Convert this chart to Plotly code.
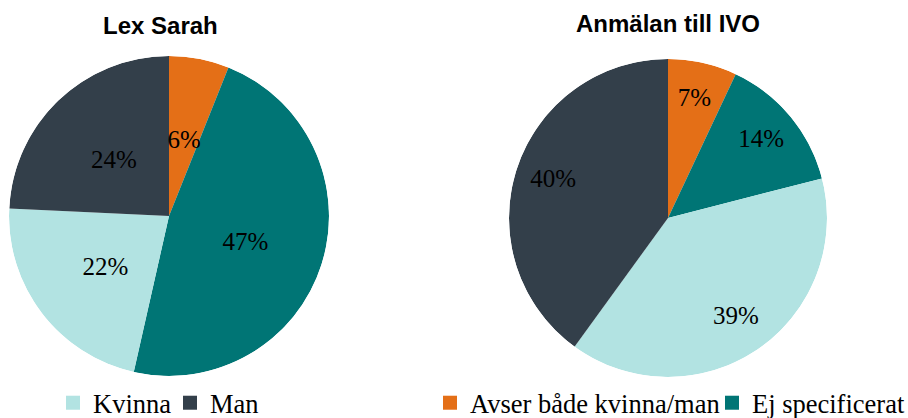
import plotly.graph_objects as go

# ---- data ----
categories = ["Avser både kvinna/man", "Ej specificerat", "Kvinna", "Man"]
lex_sarah = [6, 47, 22, 24]
ivo = [7, 14, 39, 40]
titles = ["Lex Sarah", "Anmälan till IVO"]
legend_items = ["Kvinna", "Man", "Avser både kvinna/man", "Ej specificerat"]

colors = {
    "Avser både kvinna/man": "#E46F17",
    "Ej specificerat": "#007575",
    "Kvinna": "#B2E3E2",
    "Man": "#333F4A",
}
slice_colors = [colors[c] for c in categories]

W, H = 908, 418
serif = "Liberation Serif"
sans = "Liberation Sans"
LABEL_SIZE = 25


def dom(cx, cy, r):
    return dict(x=[(cx - r) / W, (cx + r) / W], y=[1 - (cy + r) / H, 1 - (cy - r) / H])


def shares(values):
    total = float(sum(values))
    spans = [v / total * 360.0 for v in values]
    mids, acc = [], 0.0
    for s in spans:
        mids.append(acc + s / 2.0)
        acc += s
    return mids, spans


def polar_frame(d):
    return dict(
        domain=d, bgcolor="rgba(0,0,0,0)", bargap=0, hole=0,
        radialaxis=dict(range=[0, 1], visible=False, showgrid=False, showline=False),
        angularaxis=dict(rotation=90, direction="clockwise", visible=False,
                         showgrid=False, showline=False, ticks=""),
    )


fig = go.Figure()
polar_layout = {}


def add_pie(values, cx, cy, r, label_frac, text_dy, pie_id, text_id):
    mids, spans = shares(values)
    # pie slices as full-radius polar wedges
    fig.add_trace(go.Barpolar(
        r=[1] * len(values), theta=mids, width=spans,
        marker=dict(color=slice_colors, line=dict(width=0)),
        customdata=categories, hovertemplate="%{customdata}<extra></extra>",
        subplot=pie_id, showlegend=False,
    ))
    # percentage labels
    fig.add_trace(go.Scatterpolar(
        r=[label_frac] * len(values), theta=mids,
        mode="text", text=["%d%%" % v for v in values],
        textposition="middle center",
        textfont=dict(family=serif, size=LABEL_SIZE, color="black"),
        subplot=text_id, showlegend=False, hoverinfo="skip",
    ))
    polar_layout[pie_id] = polar_frame(dom(cx, cy, r))
    polar_layout[text_id] = polar_frame(dom(cx, cy + text_dy, r))


add_pie(lex_sarah, 169, 216, 160, 0.50, 4, "polar", "polar3")
add_pie(ivo, 668, 218, 159, 0.76, 0, "polar2", "polar4")

legend_ids = ["legend", "legend2", "legend3", "legend4"]
legend_x = [53, 170, 430, 712]
for name, lid in zip(legend_items, legend_ids):
    fig.add_trace(go.Scatter(x=[None], y=[None], mode="markers", name=name,
                             marker=dict(symbol="square", size=14, color=colors[name]),
                             legend=lid, hoverinfo="skip"))

legend_style = dict(orientation="h", yanchor="middle", xanchor="left",
                    font=dict(family=serif, size=26.5, color="black"),
                    bgcolor="rgba(0,0,0,0)", itemclick=False, itemdoubleclick=False)
legends = {lid: dict(x=lx / W, y=1 - 403 / H, **legend_style)
           for lid, lx in zip(legend_ids, legend_x)}

fig.update_layout(
    width=W, height=H,
    margin=dict(l=0, r=0, t=0, b=0, autoexpand=False),
    paper_bgcolor="white", plot_bgcolor="white",
    xaxis=dict(visible=False), yaxis=dict(visible=False),
    annotations=[
        dict(text="<b>%s</b>" % titles[0], x=160 / W, y=1 - 26 / H, xref="paper", yref="paper",
             showarrow=False, xanchor="center", yanchor="middle",
             font=dict(family=sans, size=24, color="black")),
        dict(text="<b>%s</b>" % titles[1], x=668 / W, y=1 - 24 / H, xref="paper", yref="paper",
             showarrow=False, xanchor="center", yanchor="middle",
             font=dict(family=sans, size=24, color="black")),
    ],
    **polar_layout,
    **legends,
)

fig.write_html("out.html", config={"displayModeBar": False},
               post_script="document.body.style.margin='0px';")
